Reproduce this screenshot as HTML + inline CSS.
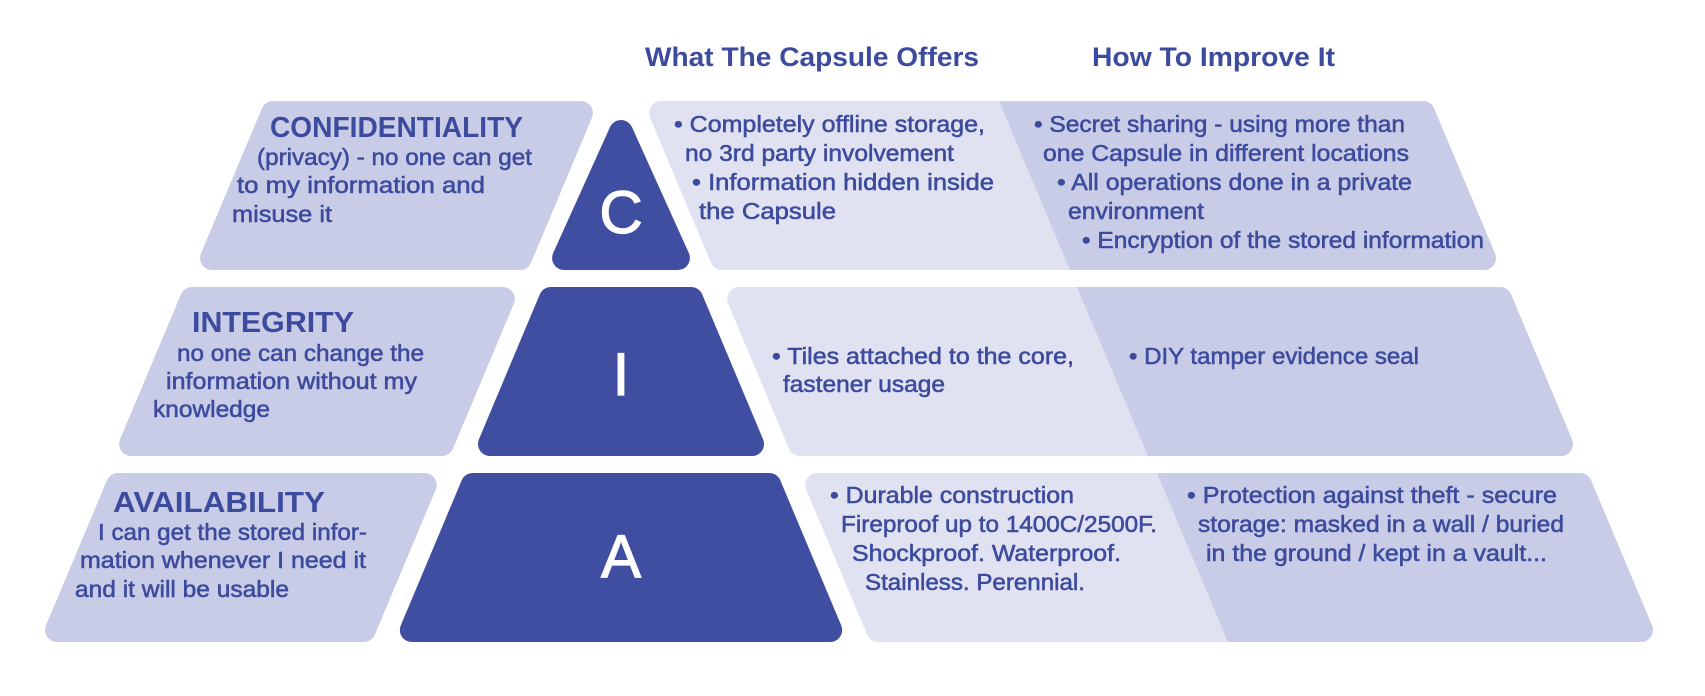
<!DOCTYPE html>
<html>
<head>
<meta charset="utf-8">
<style>
  html,body{margin:0;padding:0;background:#ffffff;}
  svg{display:block;}
  .t{font-family:"Liberation Sans",Arial,sans-serif;font-size:23px;fill:#3d4b9e;stroke:#3d4b9e;stroke-width:0.55px;}
  .h{font-family:"Liberation Sans",Arial,sans-serif;font-size:29px;font-weight:bold;fill:#3d4b9e;}
  .ttl{font-family:"Liberation Sans",Arial,sans-serif;font-size:27px;font-weight:bold;fill:#3d4b9e;}
  .big{font-family:"Liberation Sans",Arial,sans-serif;font-size:60px;fill:#ffffff;stroke:#ffffff;stroke-width:1.2px;}
</style>
</head>
<body>
<svg width="1705" height="696" viewBox="0 0 1705 696" xmlns="http://www.w3.org/2000/svg">
  <defs>
    <mask id="m1" maskUnits="userSpaceOnUse" x="0" y="0" width="1705" height="696">
      <polygon points="994.38,90 1700,90 1700,280 1074.18,280" fill="#fff"/>
    </mask>
    <mask id="m2" maskUnits="userSpaceOnUse" x="0" y="0" width="1705" height="696">
      <polygon points="1074.06,280 1700,280 1700,465 1151.76,465" fill="#fff"/>
    </mask>
    <mask id="m3" maskUnits="userSpaceOnUse" x="0" y="0" width="1705" height="696">
      <polygon points="1153.64,465 1700,465 1700,650 1231.34,650" fill="#fff"/>
    </mask>
  </defs>

  <!-- Titles -->
  <text class="ttl" x="645" y="66" textLength="334" lengthAdjust="spacingAndGlyphs">What The Capsule Offers</text>
  <text class="ttl" x="1092" y="66" textLength="243" lengthAdjust="spacingAndGlyphs">How To Improve It</text>

  <g stroke-linejoin="round" stroke-width="24">
    <!-- Left boxes -->
    <polygon points="272.98,113 580.94,113 520.04,258 212.08,258" fill="#c8cce6" stroke="#c8cce6"/>
    <polygon points="191.98,299 502.82,299 441.92,444 131.08,444" fill="#c8cce6" stroke="#c8cce6"/>
    <polygon points="117.98,485 424.70,485 363.80,630 57.08,630" fill="#c8cce6" stroke="#c8cce6"/>

    <!-- Pyramid -->
    <polygon points="621,132 677.9,258 564.1,258" fill="#3f4ea1" stroke="#3f4ea1"/>
    <polygon points="550.86,299 691.14,299 752.04,444 489.96,444" fill="#3f4ea1" stroke="#3f4ea1"/>
    <polygon points="472.74,485 769.26,485 830.16,630 411.84,630" fill="#3f4ea1" stroke="#3f4ea1"/>

    <!-- Right boxes light -->
    <polygon points="661.06,113 1423.02,113 1483.92,258 721.96,258" fill="#e0e2f1" stroke="#e0e2f1"/>
    <polygon points="739.18,299 1500.02,299 1560.92,444 800.08,444" fill="#e0e2f1" stroke="#e0e2f1"/>
    <polygon points="817.30,485 1580.02,485 1640.92,630 878.20,630" fill="#e0e2f1" stroke="#e0e2f1"/>

    <!-- Right boxes darker part -->
    <g mask="url(#m1)">
      <polygon points="661.06,113 1423.02,113 1483.92,258 721.96,258" fill="#c8cce6" stroke="#c8cce6"/>
    </g>
    <g mask="url(#m2)">
      <polygon points="739.18,299 1500.02,299 1560.92,444 800.08,444" fill="#c8cce6" stroke="#c8cce6"/>
    </g>
    <g mask="url(#m3)">
      <polygon points="817.30,485 1580.02,485 1640.92,630 878.20,630" fill="#c8cce6" stroke="#c8cce6"/>
    </g>
  </g>

  <!-- Pyramid letters -->
  <text class="big" x="621" y="233" text-anchor="middle">C</text>
  <text class="big" x="621" y="395" text-anchor="middle">I</text>
  <text class="big" x="621" y="577" text-anchor="middle">A</text>

  <!-- Row 1 left -->
  <text class="h" x="270" y="137" textLength="253" lengthAdjust="spacingAndGlyphs">CONFIDENTIALITY</text>
  <text class="t" x="257" y="165" textLength="275" lengthAdjust="spacingAndGlyphs">(privacy) - no one can get</text>
  <text class="t" x="237" y="193" textLength="248" lengthAdjust="spacingAndGlyphs">to my information and</text>
  <text class="t" x="232" y="222" textLength="100" lengthAdjust="spacingAndGlyphs">misuse it</text>

  <!-- Row 1 right: offers -->
  <text class="t" x="674" y="132" textLength="311" lengthAdjust="spacingAndGlyphs">• Completely offline storage,</text>
  <text class="t" x="685" y="161" textLength="269" lengthAdjust="spacingAndGlyphs">no 3rd party involvement</text>
  <text class="t" x="692" y="190" textLength="302" lengthAdjust="spacingAndGlyphs">• Information hidden inside</text>
  <text class="t" x="699" y="219" textLength="137" lengthAdjust="spacingAndGlyphs">the Capsule</text>

  <!-- Row 1 right: improve -->
  <text class="t" x="1034" y="132" textLength="371" lengthAdjust="spacingAndGlyphs">• Secret sharing - using more than</text>
  <text class="t" x="1043" y="161" textLength="366" lengthAdjust="spacingAndGlyphs">one Capsule in different locations</text>
  <text class="t" x="1057" y="190" textLength="355" lengthAdjust="spacingAndGlyphs">• All operations done in a private</text>
  <text class="t" x="1068" y="219" textLength="136" lengthAdjust="spacingAndGlyphs">environment</text>
  <text class="t" x="1082" y="248" textLength="402" lengthAdjust="spacingAndGlyphs">• Encryption of the stored information</text>

  <!-- Row 2 left -->
  <text class="h" x="192" y="332" textLength="162" lengthAdjust="spacingAndGlyphs">INTEGRITY</text>
  <text class="t" x="177" y="361" textLength="247" lengthAdjust="spacingAndGlyphs">no one can change the</text>
  <text class="t" x="166" y="389" textLength="251" lengthAdjust="spacingAndGlyphs">information without my</text>
  <text class="t" x="153" y="417" textLength="117" lengthAdjust="spacingAndGlyphs">knowledge</text>

  <!-- Row 2 right -->
  <text class="t" x="772" y="364" textLength="302" lengthAdjust="spacingAndGlyphs">• Tiles attached to the core,</text>
  <text class="t" x="783" y="392" textLength="162" lengthAdjust="spacingAndGlyphs">fastener usage</text>
  <text class="t" x="1129" y="364" textLength="290" lengthAdjust="spacingAndGlyphs">• DIY tamper evidence seal</text>

  <!-- Row 3 left -->
  <text class="h" x="113" y="512" textLength="212" lengthAdjust="spacingAndGlyphs">AVAILABILITY</text>
  <text class="t" x="98" y="540" textLength="269" lengthAdjust="spacingAndGlyphs">I can get the stored infor-</text>
  <text class="t" x="80" y="568" textLength="286" lengthAdjust="spacingAndGlyphs">mation whenever I need it</text>
  <text class="t" x="75" y="597" textLength="214" lengthAdjust="spacingAndGlyphs">and it will be usable</text>

  <!-- Row 3 right: offers -->
  <text class="t" x="830" y="503" textLength="244" lengthAdjust="spacingAndGlyphs">• Durable construction</text>
  <text class="t" x="841" y="532" textLength="316" lengthAdjust="spacingAndGlyphs">Fireproof up to 1400C/2500F.</text>
  <text class="t" x="852" y="561" textLength="269" lengthAdjust="spacingAndGlyphs">Shockproof. Waterproof.</text>
  <text class="t" x="865" y="590" textLength="220" lengthAdjust="spacingAndGlyphs">Stainless. Perennial.</text>

  <!-- Row 3 right: improve -->
  <text class="t" x="1187" y="503" textLength="370" lengthAdjust="spacingAndGlyphs">• Protection against theft - secure</text>
  <text class="t" x="1198" y="532" textLength="366" lengthAdjust="spacingAndGlyphs">storage: masked in a wall / buried</text>
  <text class="t" x="1206" y="561" textLength="341" lengthAdjust="spacingAndGlyphs">in the ground / kept in a vault...</text>
</svg>
</body>
</html>
